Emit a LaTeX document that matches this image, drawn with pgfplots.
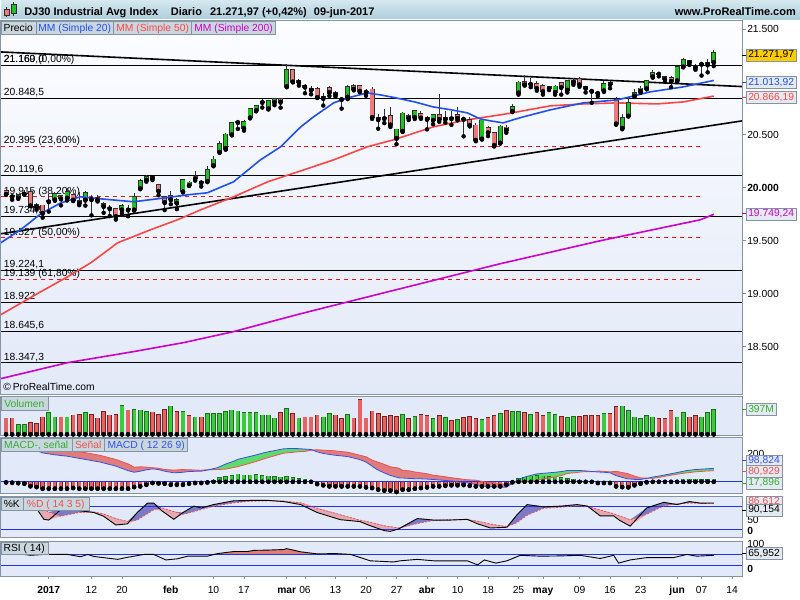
\documentclass[border=0pt]{standalone}
\usepackage{fontspec}
\setmainfont{Liberation Sans}
\usepackage{pgfplots}
\usepackage{pgfplotstable}
\pgfplotsset{compat=1.18}

\definecolor{framec}{HTML}{8494A4}
\definecolor{cgreen}{HTML}{20C020}
\definecolor{cred}{HTML}{F07A7A}
\definecolor{cdark}{HTML}{303030}
\definecolor{vgreen}{HTML}{3CCB3C}
\definecolor{vgreenD}{HTML}{1E6E1E}
\definecolor{vred}{HTML}{E86262}
\definecolor{vredD}{HTML}{7A2020}
\definecolor{mablue}{HTML}{2050F0}
\definecolor{mared}{HTML}{FF4545}
\definecolor{mamag}{HTML}{CC00CC}
\definecolor{panelbg}{HTML}{E2E9F8}
\definecolor{paneltop}{HTML}{FCFDFF}
\definecolor{tabbg}{HTML}{CAD6DE}
\definecolor{hdrtop}{HTML}{D6E8EF}
\definecolor{hdrbot}{HTML}{AACDDB}
\definecolor{fibred}{HTML}{E81818}
\definecolor{linblue}{HTML}{2233DD}
\definecolor{goldc}{HTML}{FFCC00}
\definecolor{boxbg}{HTML}{E4EAF0}
\definecolor{fillred}{HTML}{E07C7C}
\definecolor{fillgreen}{HTML}{5EDC6A}
\definecolor{fillblue}{HTML}{7A7AC8}
\definecolor{fillpink}{HTML}{E8A8B0}
\definecolor{macdblue}{HTML}{3050F0}
\definecolor{sigred}{HTML}{F05050}
\definecolor{labgreen}{HTML}{30B030}

\newcommand{\fs}{\fontsize{10.3}{12}\selectfont}
\newcommand{\fb}{\bfseries\fontsize{11}{13}\selectfont}

% candles: index (0 = 3 Jan 2017), open, high, low, close
\pgfplotstableread{
i o h l c
-5 19908 19936 19896 19934
-4 19943 19980 19938 19945
0 19872 19938 19775 19882
1 19890 19957 19878 19942
3 19906 19999 19880 19964
6 19887 19973 19832 19954
12 19795 19844 19759 19827
13 19794 19833 19732 19800
14 19794 19949 19786 19913
15 19994 20082 19994 20069
16 20076 20125 20058 20101
21 19859 19903 19799 19885
22 19964 20081 19964 20071
23 20025 20066 20020 20052
25 20050 20070 20012 20054
26 20061 20206 20061 20172
27 20211 20298 20211 20269
28 20338 20441 20338 20412
29 20374 20520 20360 20504
30 20504 20620 20496 20611
32 20564 20640 20540 20624
33 20663 20757 20663 20743
34 20735 20781 20722 20776
36 20750 20830 20740 20822
37 20809 20851 20780 20837
39 20957 21169 20957 21116
41 20998 21025 20965 21006
45 20847 20891 20777 20858
49 20860 20969 20838 20950
54 20647 20695 20558 20661
57 20469 20560 20412 20551
58 20535 20717 20535 20702
60 20668 20736 20650 20728
63 20641 20701 20600 20689
65 20650 20726 20616 20663
71 20463 20640 20463 20637
74 20425 20595 20425 20579
76 20723 20793 20723 20764
77 20900 21007 20880 20996
79 20980 21033 20950 20981
82 20940 20963 20923 20950
83 20905 20973 20880 20958
85 20925 21010 20900 21007
86 20998 21034 20973 21012
89 20915 20934 20803 20919
90 20895 20910 20866 20897
91 20920 21010 20906 20982
94 20565 20693 20553 20663
95 20680 20851 20680 20805
96 20870 20937 20858 20895
97 20915 20958 20899 20938
98 20940 21020 20930 21012
99 21052 21112 21040 21083
100 21077 21090 21052 21080
103 21014 21150 21000 21144
104 21145 21225 21140 21206
107 21170 21186 21060 21174
108 21165 21221 21090 21183
109 21188 21305 21150 21272
}\candUp
\pgfplotstableread{
i o h l c
-7 19973 19980 19935 19942
-6 19922 19934 19887 19919
-3 19964 19982 19828 19834
-2 19835 19853 19794 19820
-1 19833 19842 19718 19763
2 19926 19930 19834 19899
4 19931 19943 19875 19887
5 19876 19957 19836 19856
7 19895 19929 19740 19891
8 19906 19935 19871 19886
9 19849 19864 19764 19827
10 19810 19837 19733 19805
11 19800 19813 19700 19732
17 20102 20115 20073 20094
18 20028 20040 19930 19971
19 19913 19925 19790 19864
20 19923 19967 19845 19891
24 20107 20155 20068 20090
31 20627 20639 20556 20620
35 20813 20840 20758 20810
38 20839 20845 20757 20812
40 21112 21120 20998 21003
42 20960 20982 20893 20954
43 20936 20960 20883 20925
44 20935 20950 20852 20856
46 20945 20960 20868 20903
47 20898 20915 20861 20881
48 20840 20845 20748 20837
50 20960 20980 20920 20935
51 20960 20965 20903 20915
52 20910 20937 20869 20906
53 20930 20953 20651 20668
55 20660 20741 20611 20657
56 20680 20764 20574 20597
59 20680 20699 20640 20659
61 20700 20723 20652 20663
62 20660 20674 20552 20650
64 20690 20887 20624 20648
66 20665 20729 20595 20656
67 20686 20765 20637 20658
68 20655 20660 20486 20651
69 20640 20669 20580 20592
70 20590 20612 20440 20453
72 20565 20580 20488 20523
73 20520 20527 20390 20404
75 20570 20590 20520 20548
78 21000 21070 20966 20975
80 20983 21005 20917 20941
81 20962 20985 20880 20913
84 20987 21000 20880 20951
87 21030 21050 20954 20976
88 20955 20965 20900 20943
92 20990 21006 20940 20980
93 20830 20860 20596 20607
101 21048 21055 21000 21029
102 21040 21057 20950 21009
105 21200 21208 21160 21184
106 21150 21165 21115 21136
}\candDn

% volume (millions), split by close versus previous close
\pgfplotstableread{
i v
-5 159
-4 159
0 345
1 281
3 281
6 345
12 461
14 397
15 386
16 361
20 450
22 361
24 281
26 334
27 334
28 334
29 361
30 386
31 370
32 345
33 345
34 345
35 307
36 307
37 265
39 413
41 265
45 281
46 334
49 318
58 318
60 286
63 254
65 270
67 239
71 239
74 334
76 366
77 366
79 318
82 350
83 318
85 270
86 286
91 334
94 450
95 382
96 281
97 250
98 302
99 281
103 281
104 345
107 281
108 345
109 397
}\volUp
\pgfplotstableread{
i v
-7 265
-6 265
-3 186
-2 175
-1 281
2 281
4 307
5 318
7 318
8 265
9 361
10 307
11 318
13 386
17 355
18 318
19 397
21 361
23 302
25 281
38 345
40 334
42 281
43 281
44 307
47 307
48 250
50 265
51 556
52 265
53 370
54 334
55 286
56 302
57 286
59 254
61 318
62 302
64 302
66 223
68 270
69 286
70 254
72 270
73 302
75 382
78 350
80 350
81 302
84 286
87 286
88 302
89 302
90 302
92 334
93 445
100 250
101 250
102 382
105 281
106 302
}\volDn

\pgfplotstableread{
i y
-7.86 19481
-4.6 19604
-1.3 19755
2.0 19858
5.2 19915
8.5 19896
13.9 19868
17.8 19896
22.8 19934
26.0 19953
30.3 20057
34.7 20264
38.0 20387
41.3 20575
43.4 20670
46.7 20802
49.0 20849
52.2 20896
54.4 20877
56.5 20854
60.0 20811
63.0 20764
66.0 20736
68.6 20708
70.7 20651
72.4 20632
74.5 20613
76.1 20642
77.8 20670
82.2 20736
87.6 20802
93.2 20830
98.6 20906
104.0 20953
109.0 21013.92
}\maA
\pgfplotstableread{
i y
-7.86 18802
-1.3 19019
3.1 19160
6.9 19292
11.3 19481
16.7 19604
21.1 19698
24.9 19792
30.3 19915
35.9 20057
41.3 20160
46.7 20264
52.2 20387
56.5 20453
63.0 20575
68.6 20642
74.0 20689
76.8 20717
82.2 20774
87.6 20792
93.2 20802
99.7 20792
104.0 20811
109.0 20866.19
}\maB
\pgfplotstableread{
i y
-7.86 18198
3.1 18349
13.9 18453
22.1 18538
30.3 18642
41.3 18811
57.6 19047
74.0 19283
90.4 19500
106.8 19698
109.0 19749.24
}\maC

\pgfplotstableread{
i m s
-7.8 282 285
-5 272 280
-3 245 276
-1 212 262
1 198 248
3 188 237
5 172 222
8.5 144 193
11 115 164
13 82 131
14 70 107
15 78 110
16 88 108
17 95 103
18 90 100
19 78 90
20.5 66 86
22 70 90
23 76 88
25 78 85
26 86 89
27.6 103 90
29 130 93
30.3 151 105
31 165 111
33.6 193 144
35 210 164
36 220 178
38.5 242 210
40 245 216
41 243 221
42 240 223
43 237 232
44 220 235
45 208 232
46.7 196 228
49 185 217
51 163 195
52 145 184
53 115 159
53.8 90 147
55 65 128
56 47 110
57.4 29 100
58 28 84
59 25 81
60 23 72
61 22 66
62 20 59
63 17 49
65 10 37
66 6 30
68.6 -7 15
70 -20 12
71.3 -32 0
73 -38 -6
75 -40 -20
76 -10 -8
77 17 -5
78 35 1
79.5 53 9
80 58 12
81 62 20
82 66 29
83 70 36
84 75 46
85 83 61
86 83 66
87 83 71
88 80 75
89 76 74
90 72 79
91 70 77
92 66 73
93 45 77
94.8 22 61
96 18 42
97 17 29
98 25 27
99 35 25
100 42 32
101.3 53 43
103 68 56
104.6 83 66
106 90 73
108 96 80
109 98.824 80.929
}\macdtab

\pgfplotstableread{
i h
27 12
28 29
29 37
30 46
31 54
32 48
33 49
34 51
35 46
36 42
37 37
38 32
39 37
40 29
41 22
42 17
43 5
77 22
78 34
79 42
80 46
81 42
82 37
83 34
84 29
85 22
86 17
87 12
88 5
89 2
99 10
100 10
101 10
102 10
103 12
104 17
105 17
106 17
107 15
108 15
109 17.896
}\histPos
\pgfplotstableread{
i h
-7 -3
-6 -5
-5 -8
-4 -12
-3 -31
-2 -37
-1 -49
0 -49
1 -49
2 -49
3 -49
4 -44
5 -49
6 -49
7 -49
8 -49
9 -49
10 -49
11 -49
12 -49
13 -49
14 -37
15 -32
16 -20
17 -7
18 -10
19 -12
20 -20
21 -20
22 -20
23 -12
24 -7
25 -7
26 -3
44 -15
45 -24
46 -32
47 -32
48 -32
49 -32
50 -32
51 -32
52 -39
53 -44
54 -56
55 -63
56 -63
57 -73
58 -56
59 -56
60 -49
61 -44
62 -39
63 -32
64 -32
65 -27
66 -24
67 -24
68 -22
69 -27
70 -32
71 -32
72 -32
73 -32
74 -32
75 -20
76 -2
90 -7
91 -7
92 -7
93 -32
94 -37
95 -39
96 -24
97 -12
98 -2
}\histNeg

\pgfplotstableread{
i k d
-7.8 80 78
-5 85 78.6
-3 80 79
-1.9 73 76.8
-0.8 47 73.3
0 45 66.3
2 73 55
3 73 58.5
5 70 65
7.4 65 66.6
9 55 61
11 32 49
12.9 35 41.1
14.5 65 45
16.2 90 62
17.2 90 72
18.5 70 77.5
20.5 47 67.5
22 65 60
23.8 82 67.2
25 77 73
27 86 81.5
30.3 96 90.4
33 97 94.7
36 97 96
38.5 94 95.5
41.3 86 90.5
44 65 76.3
47.8 46 59
51 41 44.7
52.7 30 39.2
55 17 30
56 15 27.5
57.4 22 24
60.4 49 35.6
63.1 45 44.1
65.9 45 45.9
68.6 47 46
70.3 35 42.1
72.4 24 34.4
75.1 26 27.7
76.8 60 38.7
78.4 86 57.5
81.1 80 76.1
84 82 79
86.6 86 83.3
88.3 82 81.4
90.4 56 71.6
92.6 56 61.6
93.5 45 56.3
95.3 29 45.8
98 77 60
100.8 92 82.6
103 86 88
105 94 90
106.8 90 89.1
109 90.154 88.6
}\stochtab

\pgfplotstableread{
i r
-7.8 70
-5 72
-3 66
-0.8 69
0 69
3.1 69
5.2 61
6.4 69
7.4 62
11.3 52
12.9 59
15.6 69
17.2 69
19.2 50
21.1 54
22.8 63
26 63
27.7 72
30.3 79
32.6 79
33.6 83
36 84
38.5 86
39 89
41.3 78
44 71
47 72
49.5 69
52.7 47
56.5 43
57.6 47
60.4 52
63.1 47
68.6 47
70.3 33
71.4 50
73.3 39
75.1 47
77.3 66
80.6 63
84 64
87.1 66
90.4 55
92.6 66
93.4 39
95.3 50
98 58
102.4 58
104.6 69
106.2 63
109 65.952
}\rsitab

% reference lines (price levels, trend lines)
\pgfplotstableread{
x p
0 0
742 0
}\hspan
\pgfplotstableread{
x p
0 0
700 0
}\fspan
\pgfplotstableread{
x p
0 21283
742 20956
}\trendA
\pgfplotstableread{
x p
0 19566
742 20632
}\trendB

\pgfplotsset{
  bar/.style n args={2}{only marks, mark=none, error bars/.cd, y dir=plus, y explicit,
    error mark=none, error bar style={draw=#1, line width=#2}},
}
\tikzset{
  vlab/.style={font=\fs, inner xsep=2pt, inner ysep=1.2pt, text height=7.6pt, text depth=2pt, anchor=west, draw=framec},
  plab/.style={font=\fs, inner sep=0pt, anchor=west},
  tab/.style={font=\fs, inner sep=0pt, anchor=base},
  lvl/.style={anchor=base west, inner sep=0pt, font=\fs},
}
% x position of trading day i: 48+6.107*i ; price P: 412+(P-20000)*0.106
\begin{document}
\begin{tikzpicture}
\begin{axis}[scale only axis, width=800pt, height=600pt, xmin=0, xmax=800, ymin=0, ymax=600,
  hide axis, clip=false, anchor=south west, at={(0pt,0pt)}]
\fill[white] (0,0) rectangle (800,600);
% header
\shade[top color=hdrtop, bottom color=hdrbot] (0,580) rectangle (800,600);
\draw[cdark] (5.5,583) -- (5.5,593);
\draw[cdark, fill=cred] (3,585) rectangle (8,591);
\draw[cdark] (12.5,584) -- (12.5,598);
\draw[cdark, fill=cgreen] (10,587) rectangle (15,596);
\node[anchor=base west, inner sep=0pt, font=\fb] at (23.3,584.3) {DJ30 Industrial Avg Index};
\node[anchor=base west, inner sep=0pt, font=\fb] at (170,584.3) {Diario};
\node[anchor=base west, inner sep=0pt, font=\fb] at (209.3,584.3) {21.271,97 (+0,42\%)};
\node[anchor=base west, inner sep=0pt, font=\fb] at (313.3,584.3) {09-jun-2017};
\node[anchor=base east, inner sep=0pt, font=\fb] at (796,584.3) {www.ProRealTime.com};
% backgrounds
\shade[top color=paneltop, bottom color=panelbg] (0,205.5) rectangle (742,580);
\fill[panelbg] (0,164) rectangle (742,203.3);
\fill[panelbg] (0,106) rectangle (742,161.7);
\fill[panelbg] (0,61.7) rectangle (742,103.3);
\fill[panelbg] (0,23.3) rectangle (742,58.3);

% ================= price panel
\pgfplotsinvokeforeach{21160,20848.5,20119.6,19734.5,19224.1,18922,18645.6,18347.3}{
  \addplot[black, line width=0.8pt] table[x=x, y expr={412+(#1-20000)*0.106}] {\hspan};
}
\pgfplotsinvokeforeach{20395,19916,19528,19139}{
  \addplot[fibred, line width=0.8pt, dash pattern=on 4pt off 4pt] table[x=x, y expr={412+(#1-20000)*0.106}] {\fspan};
}
\node[lvl] at (3,537.6) {21.160,0};
\node[lvl] at (3,537.6) {21.169 (0,00\%)};
\node[lvl] at (3,504.6) {20.848,5};
\node[lvl] at (3,456.5) {20.395 (23,60\%)};
\node[lvl] at (3,427.3) {20.119,6};
\node[lvl] at (3,405.8) {19.915 (38,20\%)};
\node[lvl] at (3,386.5) {19.734,5};
\node[lvl] at (3,364.6) {19.527 (50,00\%)};
\node[lvl] at (3,332.4) {19.224,1};
\node[lvl] at (3,323.4) {19.139 (61,80\%)};
\node[lvl] at (3,300.4) {18.922};
\node[lvl] at (3,271.1) {18.645,6};
\node[lvl] at (3,239.5) {18.347,3};
\node[lvl] at (2.5,209.5) {\textcopyright\,ProRealTime.com};
\addplot[black, line width=1.6pt] table[x=x, y expr={412+(\thisrow{p}-20000)*0.106}] {\trendA};
\addplot[black, line width=1.6pt] table[x=x, y expr={412+(\thisrow{p}-20000)*0.106}] {\trendB};
\addplot[mamag, line width=1.6pt] table[x expr={48+6.107*\thisrow{i}}, y expr={412+(\thisrow{y}-20000)*0.106}] {\maC};
\addplot[mared, line width=1.6pt] table[x expr={48+6.107*\thisrow{i}}, y expr={412+(\thisrow{y}-20000)*0.106}] {\maB};
% candles: wicks, body outlines, body fills
\addplot[bar={cdark}{0.9pt}] table[x expr={48+6.107*\thisrow{i}}, y expr={412+(\thisrow{l}-20000)*0.106}, y error expr={(\thisrow{h}-\thisrow{l})*0.106}] {\candUp};
\addplot[bar={cdark}{0.9pt}] table[x expr={48+6.107*\thisrow{i}}, y expr={412+(\thisrow{l}-20000)*0.106}, y error expr={(\thisrow{h}-\thisrow{l})*0.106}] {\candDn};
\addplot[bar={cdark}{5pt}] table[x expr={48+6.107*\thisrow{i}}, y expr={412+(min(\thisrow{o},\thisrow{c})-20000)*0.106-0.8}, y error expr={abs(\thisrow{c}-\thisrow{o})*0.106+1.6}] {\candUp};
\addplot[bar={cdark}{5pt}] table[x expr={48+6.107*\thisrow{i}}, y expr={412+(min(\thisrow{o},\thisrow{c})-20000)*0.106-0.8}, y error expr={abs(\thisrow{c}-\thisrow{o})*0.106+1.6}] {\candDn};
\addplot[bar={cgreen}{3.4pt}] table[x expr={48+6.107*\thisrow{i}}, y expr={412+(min(\thisrow{o},\thisrow{c})-20000)*0.106}, y error expr={abs(\thisrow{c}-\thisrow{o})*0.106}] {\candUp};
\addplot[bar={cred}{3.4pt}] table[x expr={48+6.107*\thisrow{i}}, y expr={412+(min(\thisrow{o},\thisrow{c})-20000)*0.106}, y error expr={abs(\thisrow{c}-\thisrow{o})*0.106}] {\candDn};
\addplot[mablue, line width=1.6pt] table[x expr={48+6.107*\thisrow{i}}, y expr={412+(\thisrow{y}-20000)*0.106}] {\maA};
\draw[framec, line width=0.8pt] (0,205.5) rectangle (742,580);
% right axis of the price panel
\pgfplotsinvokeforeach{253,306,359,412,465,518,571}{
  \draw[framec, line width=0.8pt] (742,#1) -- (746,#1);
}
\node[plab] at (747,571) {21.500};
\node[plab] at (747,465) {20.500};
\node[plab] at (747,412) {\textbf{20.000}};
\node[plab] at (747,359) {19.500};
\node[plab] at (747,306) {19.000};
\node[plab] at (747,253) {18.500};

% ================= volume panel (zero at 165, 15.9 M per pt)
\addplot[bar={vgreenD}{4.6pt}] table[x expr={48+6.107*\thisrow{i}}, y expr=165, y error expr={\thisrow{v}/15.9+0.4}] {\volUp};
\addplot[bar={vgreen}{3.2pt}] table[x expr={48+6.107*\thisrow{i}}, y expr=165.4, y error expr={\thisrow{v}/15.9-0.4}] {\volUp};
\addplot[bar={vredD}{4.6pt}] table[x expr={48+6.107*\thisrow{i}}, y expr=165, y error expr={\thisrow{v}/15.9+0.4}] {\volDn};
\addplot[bar={vred}{3.2pt}] table[x expr={48+6.107*\thisrow{i}}, y expr=165.4, y error expr={\thisrow{v}/15.9-0.4}] {\volDn};
\draw[framec, line width=0.8pt] (0,164) rectangle (742,203.3);

% ================= MACD panel (zero at 117.7, 0.1365 pt per unit)
\addplot[fill=fillgreen, draw=none] table[x expr={48+6.107*\thisrow{i}}, y expr={117.7+max(\thisrow{m},\thisrow{s})*0.1365}] {\macdtab}
  -- (713.66,106.4) -- (0.37,106.4) -- cycle;
\addplot[fill=fillred, draw=none] table[x expr={48+6.107*\thisrow{i}}, y expr={117.7+\thisrow{s}*0.1365}] {\macdtab}
  -- (713.66,106.4) -- (0.37,106.4) -- cycle;
\addplot[fill=panelbg, draw=none] table[x expr={48+6.107*\thisrow{i}}, y expr={117.7+min(\thisrow{m},\thisrow{s})*0.1365}] {\macdtab}
  -- (713.66,106.4) -- (0.37,106.4) -- cycle;
\addplot[bar={vgreenD}{4.4pt}] table[x expr={48+6.107*\thisrow{i}}, y expr=117.7, y error expr={\thisrow{h}*0.1365+0.4}] {\histPos};
\addplot[bar={vgreen}{3pt}] table[x expr={48+6.107*\thisrow{i}}, y expr=117.7, y error expr={\thisrow{h}*0.1365}] {\histPos};
\addplot[bar={vredD}{4.4pt}] table[x expr={48+6.107*\thisrow{i}}, y expr={117.7+\thisrow{h}*0.1365-0.4}, y error expr={-\thisrow{h}*0.1365+0.4}] {\histNeg};
\addplot[bar={vred}{3pt}] table[x expr={48+6.107*\thisrow{i}}, y expr={117.7+\thisrow{h}*0.1365}, y error expr={-\thisrow{h}*0.1365}] {\histNeg};
\draw[linblue, line width=0.8pt] (0,117.7) -- (742,117.7);
\addplot[sigred, line width=0.8pt] table[x expr={48+6.107*\thisrow{i}}, y expr={117.7+\thisrow{s}*0.1365}] {\macdtab};
\addplot[macdblue, line width=0.8pt] table[x expr={48+6.107*\thisrow{i}}, y expr={117.7+\thisrow{m}*0.1365}] {\macdtab};
\draw[framec, line width=0.8pt] (0,106) rectangle (742,161.7);

% ================= Stochastic panel (0 at 62.4, 0.378 pt per unit)
\addplot[fill=fillblue, draw=none] table[x expr={48+6.107*\thisrow{i}}, y expr={62.4+max(\thisrow{k},\thisrow{d})*0.378}] {\stochtab}
  -- (713.66,62.1) -- (0.37,62.1) -- cycle;
\addplot[fill=fillpink, draw=none] table[x expr={48+6.107*\thisrow{i}}, y expr={62.4+\thisrow{d}*0.378}] {\stochtab}
  -- (713.66,62.1) -- (0.37,62.1) -- cycle;
\addplot[fill=panelbg, draw=none] table[x expr={48+6.107*\thisrow{i}}, y expr={62.4+min(\thisrow{k},\thisrow{d})*0.378}] {\stochtab}
  -- (713.66,62.1) -- (0.37,62.1) -- cycle;
\draw[linblue, line width=0.8pt] (0,92.64) -- (742,92.64);
\draw[linblue, line width=0.8pt] (0,69.96) -- (742,69.96);
\addplot[sigred, line width=0.8pt, dash pattern=on 2pt off 1.5pt] table[x expr={48+6.107*\thisrow{i}}, y expr={62.4+\thisrow{d}*0.378}] {\stochtab};
\addplot[black, line width=0.9pt] table[x expr={48+6.107*\thisrow{i}}, y expr={62.4+\thisrow{k}*0.378}] {\stochtab};
\draw[framec, line width=0.8pt] (0,61.7) rectangle (742,103.3);

% ================= RSI panel (0 at 25, 0.29 pt per unit)
\addplot[fill=fillred, draw=none] table[x expr={48+6.107*\thisrow{i}}, y expr={25+max(\thisrow{r},70)*0.29}] {\rsitab}
  -- (713.66,23.7) -- (0.37,23.7) -- cycle;
\fill[panelbg] (0.4,23.7) rectangle (741.6,45.3);
\draw[linblue, line width=0.8pt] (0,45.3) -- (742,45.3);
\draw[linblue, line width=0.8pt] (0,33.7) -- (742,33.7);
\addplot[black, line width=0.9pt] table[x expr={48+6.107*\thisrow{i}}, y expr={25+\thisrow{r}*0.29}] {\rsitab};
\draw[framec, line width=0.8pt] (0,23.3) rectangle (742,58.3);

% ================= date axis
\pgfplotsinvokeforeach{48.0,90.7,121.3,170.1,212.9,243.4,286.2,304.5,335.0,365.6,396.1,426.6,457.2,487.7,518.2,542.7,579.3,609.8,640.4,677.0,701.4,732.0}{
  \draw[framec, line width=0.8pt] (#1,23.3) -- (#1,20.3);
}
\node[tab] at (48.0,6.3) {\textbf{2017}};
\node[tab] at (90.7,6.3) {12};
\node[tab] at (121.3,6.3) {20};
\node[tab] at (170.1,6.3) {\textbf{feb}};
\node[tab] at (212.9,6.3) {10};
\node[tab] at (243.4,6.3) {17};
\node[tab] at (286.2,6.3) {\textbf{mar}};
\node[tab] at (304.5,6.3) {06};
\node[tab] at (335.0,6.3) {13};
\node[tab] at (365.6,6.3) {20};
\node[tab] at (396.1,6.3) {27};
\node[tab] at (426.6,6.3) {\textbf{abr}};
\node[tab] at (457.2,6.3) {10};
\node[tab] at (487.7,6.3) {18};
\node[tab] at (518.2,6.3) {25};
\node[tab] at (542.7,6.3) {\textbf{may}};
\node[tab] at (579.3,6.3) {09};
\node[tab] at (609.8,6.3) {16};
\node[tab] at (640.4,6.3) {23};
\node[tab] at (677.0,6.3) {\textbf{jun}};
\node[tab] at (701.4,6.3) {07};
\node[tab] at (732.0,6.3) {14};

% ================= tabs
\draw[framec, fill=tabbg] (0,566) rectangle (35,579);
\node[tab] at (17.5,568.8) {Precio};
\draw[framec, fill=tabbg] (35,566) rectangle (113,579);
\node[tab, text=mablue] at (74,568.8) {MM (Simple 20)};
\draw[framec, fill=tabbg] (113,566) rectangle (191,579);
\node[tab, text=mared] at (152,568.8) {MM (Simple 50)};
\draw[framec, fill=tabbg] (191,566) rectangle (275,579);
\node[tab, text=mamag] at (233,568.8) {MM (Simple 200)};
\draw[framec, fill=tabbg] (0,189) rectangle (47,203);
\node[tab, text=labgreen] at (23.5,192) {Volumen};
\draw[framec, fill=tabbg] (0,148) rectangle (71,161);
\node[tab, text=labgreen] at (35.5,151) {MACD-, señal};
\draw[framec, fill=tabbg] (71,148) rectangle (104,161);
\node[tab, text=sigred] at (87.5,151) {Señal};
\draw[framec, fill=tabbg] (104,148) rectangle (187,161);
\node[tab, text=macdblue] at (145.5,151) {MACD ( 12 26 9)};
\draw[framec, fill=tabbg] (0,89.3) rectangle (22,102.3);
\node[tab] at (11,92) {\%K};
\draw[framec, fill=tabbg] (22,89.3) rectangle (88,102.3);
\node[tab, text=sigred] at (55,92) {\%D ( 14 3 5)};
\draw[framec, fill=tabbg] (0,45) rectangle (47,57.3);
\node[tab] at (23.5,47.5) {RSI ( 14)};

% ================= right-hand value labels
\draw[black, line width=0.8pt] (742,545) -- (746,545);
\node[vlab, fill=goldc] at (746,545) {21.271,97};
\draw[mablue, line width=0.8pt] (742,517.5) -- (746,517.5);
\node[vlab, fill=boxbg, text=mablue] at (746,517.5) {21.013,92};
\draw[mared, line width=0.8pt] (742,502.5) -- (746,502.5);
\node[vlab, fill=boxbg, text=mared] at (746,502.5) {20.866,19};
\draw[mamag, line width=0.8pt] (742,386) -- (746,386);
\node[vlab, fill=boxbg, text=mamag] at (746,386) {19.749,24};
\draw[labgreen, line width=0.8pt] (742,190) -- (746,190);
\node[vlab, fill=boxbg, text=labgreen] at (746,190) {397M};
\node[plab] at (747,145.5) {200};
\draw[macdblue, line width=0.8pt] (742,138.7) -- (746,138.7);
\node[vlab, fill=boxbg, text=macdblue] at (746,138.7) {98,824};
\draw[sigred, line width=0.8pt] (742,128.3) -- (746,128.3);
\node[vlab, fill=boxbg, text=sigred] at (746,128.3) {80,929};
\draw[labgreen, line width=0.8pt] (742,116.5) -- (746,116.5);
\node[vlab, fill=boxbg, text=labgreen] at (746,116.5) {17,896};
\node[vlab, fill=boxbg, text=sigred] at (746,97.5) {86,612};
\node[plab] at (747,80) {50};
\draw[black, line width=0.8pt] (742,89.5) -- (746,89.5);
\node[vlab, fill=boxbg] at (746,89.5) {90,154};
\node[plab, font=\bfseries\fs] at (747,68.3) {0};
\node[plab] at (747,55) {100};
\draw[black, line width=0.8pt] (742,46) -- (746,46);
\node[vlab, fill=boxbg] at (746,46) {65,952};
\node[plab, font=\bfseries\fs] at (747,30) {0};
\end{axis}
\end{tikzpicture}
\end{document}
